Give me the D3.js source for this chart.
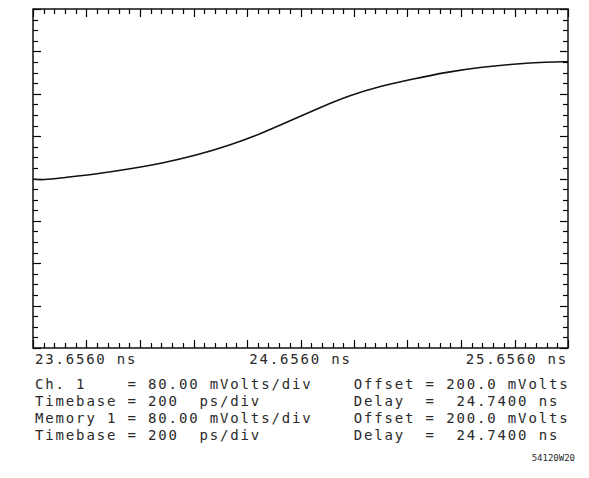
<!DOCTYPE html>
<html>
<head>
<meta charset="utf-8">
<script src="https://cdn.jsdelivr.net/npm/d3@7"></script>
<style>
  body { margin: 0; background: #fff; }
  text { font-family: "DejaVu Sans Mono", monospace; fill: #2a2a2a; }
</style>
</head>
<body>
<div id="chart"></div>
<script>
// waveform: time (ns) and voltage (mV)
const timeNs = [23.656, 23.693, 23.768, 23.895, 24.019, 24.142, 24.269, 24.392, 24.505,
    24.617, 24.729, 24.841, 24.953, 25.077, 25.204, 25.327, 25.451, 25.578, 25.656]
const voltMv = [199, 197, 201.5, 208.5, 218, 229, 244, 263, 284,
    309, 334, 357, 374, 388, 401, 410, 416, 420, 420.5]

const xLabels = ["23.6560 ns", "24.6560 ns", "25.6560 ns"]
const infoLines = [
    "Ch. 1    = 80.00 mVolts/div    Offset = 200.0 mVolts",
    "Timebase = 200  ps/div         Delay  =  24.7400 ns",
    "Memory 1 = 80.00 mVolts/div    Offset = 200.0 mVolts",
    "Timebase = 200  ps/div         Delay  =  24.7400 ns"
]
const footnote = "54120W20"

const W = 589, H = 478
const box = {left: 33, right: 568, top: 9, bottom: 348}

const svg = d3.select("#chart")
    .append("svg")
    .attr("width", W)
    .attr("height", H)

const x = d3.scaleLinear()
    .domain([23.656, 25.656])
    .range([box.left, box.right])
const y = d3.scaleLinear()
    .domain([-120, 520])
    .range([box.bottom, box.top])

// 10 horizontal divisions of 0.2 ns, 5 ticks each; 8 vertical divisions of 80 mV, 4 ticks each
const xTicks = d3.range(51).map(i => ({v: 23.656 + i * 0.04, major: i % 5 === 0}))
const yTicks = d3.range(33).map(i => ({v: -120 + i * 20, major: i % 4 === 0}))

const minorLen = 5, majorLen = 8

const ticks = svg.append("g")
    .attr("stroke", "#000")
    .attr("stroke-width", 1.2)

// top and bottom edges, ticks pointing inward
ticks.selectAll(".xt-top")
    .data(xTicks)
    .enter()
    .append("line")
    .attr("x1", d => Math.round(x(d.v)) + 0.5)
    .attr("x2", d => Math.round(x(d.v)) + 0.5)
    .attr("y1", box.top)
    .attr("y2", d => box.top + (d.major ? majorLen : minorLen))
ticks.selectAll(".xt-bot")
    .data(xTicks)
    .enter()
    .append("line")
    .attr("x1", d => Math.round(x(d.v)) + 0.5)
    .attr("x2", d => Math.round(x(d.v)) + 0.5)
    .attr("y1", box.bottom)
    .attr("y2", d => box.bottom - (d.major ? majorLen : minorLen))
// left and right edges
ticks.selectAll(".yt-left")
    .data(yTicks)
    .enter()
    .append("line")
    .attr("y1", d => Math.round(y(d.v)) + 0.5)
    .attr("y2", d => Math.round(y(d.v)) + 0.5)
    .attr("x1", box.left)
    .attr("x2", d => box.left + (d.major ? majorLen : minorLen))
ticks.selectAll(".yt-right")
    .data(yTicks)
    .enter()
    .append("line")
    .attr("y1", d => Math.round(y(d.v)) + 0.5)
    .attr("y2", d => Math.round(y(d.v)) + 0.5)
    .attr("x1", box.right)
    .attr("x2", d => box.right - (d.major ? majorLen : minorLen))

svg.append("rect")
    .attr("x", box.left)
    .attr("y", box.top)
    .attr("width", box.right - box.left)
    .attr("height", box.bottom - box.top)
    .attr("fill", "none")
    .attr("stroke", "#111")
    .attr("stroke-width", 1.5)

const line = d3.line()
    .x((d, i) => x(timeNs[i]))
    .y(d => y(d))
    .curve(d3.curveBasis)

svg.append("path")
    .datum(voltMv)
    .attr("d", line)
    .attr("fill", "none")
    .attr("stroke", "#111")
    .attr("stroke-width", 1.6)

// time labels under the frame
const anchors = ["start", "middle", "end"]
const labelX = [box.left + 2, x(24.656), box.right]
svg.selectAll(".xlab")
    .data(xLabels)
    .enter()
    .append("text")
    .attr("class", "xlab")
    .attr("x", (d, i) => labelX[i])
    .attr("y", 364)
    .attr("text-anchor", (d, i) => anchors[i])
    .attr("font-size", 14)
    .attr("letter-spacing", 1.8)
    .text(d => d)

svg.selectAll(".info")
    .data(infoLines)
    .enter()
    .append("text")
    .attr("class", "info")
    .attr("x", 35)
    .attr("y", (d, i) => 389 + i * 17)
    .attr("font-size", 14)
    .attr("letter-spacing", 1.85)
    .style("white-space", "pre")
    .text(d => d)

svg.append("text")
    .attr("x", 575)
    .attr("y", 461)
    .attr("text-anchor", "end")
    .attr("font-size", 9)
    .attr("font-family", "'Liberation Sans', sans-serif")
    .text(footnote)
</script>
</body>
</html>
